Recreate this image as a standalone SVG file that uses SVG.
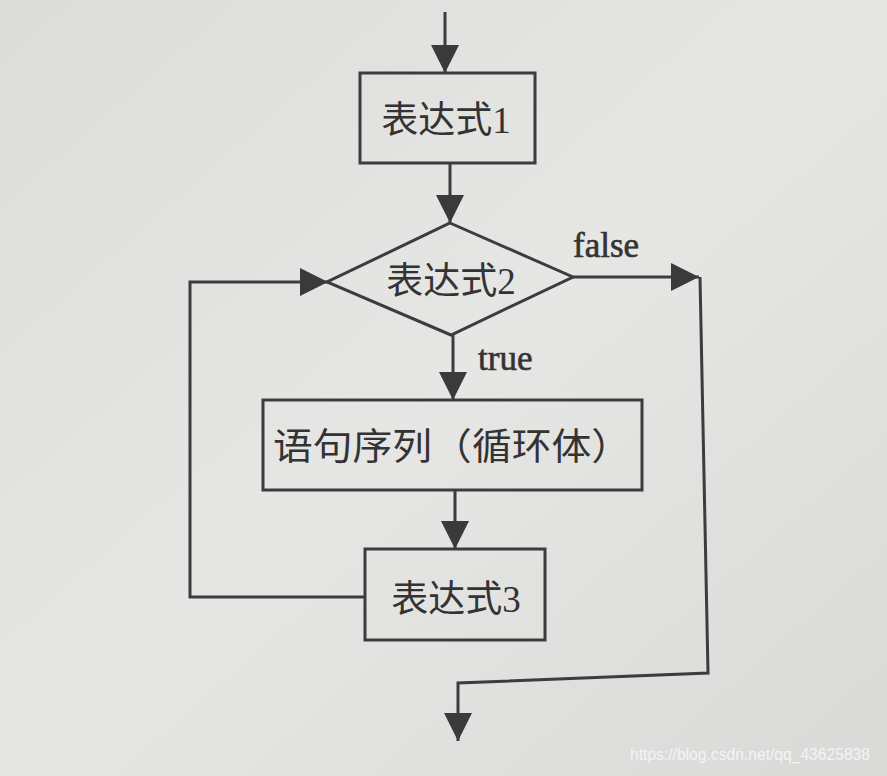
<svg xmlns="http://www.w3.org/2000/svg" width="887" height="776" viewBox="0 0 887 776">
<defs>
<linearGradient id="bg" x1="0" y1="0" x2="1" y2="1">
<stop offset="0" stop-color="#dcdcda"/>
<stop offset="0.5" stop-color="#e6e6e4"/>
<stop offset="1" stop-color="#d9d9d7"/>
</linearGradient>
<marker id="ah" viewBox="0 0 28 28" refX="28" refY="14" markerWidth="28" markerHeight="28" markerUnits="userSpaceOnUse" orient="auto">
<path d="M0,0 L28,14 L0,28 Z" fill="#3a3a3a"/>
</marker>
<style>
.ln{fill:none;stroke:#3c3c3c;stroke-width:3}
.bx{fill:none;stroke:#3c3c3c;stroke-width:3}
.cn{font-family:"Liberation Serif","Noto Sans CJK SC",serif;font-size:37px;fill:#333;text-anchor:middle}
.lb{font-family:"Liberation Serif",serif;font-size:35px;fill:#333;stroke:#333;stroke-width:0.6}
.wm{font-family:"Liberation Sans",Arial,sans-serif;font-size:16px;fill:#f4f4f4}
</style>
</defs>
<rect width="887" height="776" fill="url(#bg)"/>
<g id="connectors">
<path class="ln" d="M445,12 V73" marker-end="url(#ah)"/>
<path class="ln" d="M450,163 V223" marker-end="url(#ah)"/>
<path class="ln" d="M573,277 H699" marker-end="url(#ah)"/>
<path class="ln" d="M700,277 L708,673 L458,683 V741" marker-end="url(#ah)"/>
<path class="ln" d="M453,335 V400" marker-end="url(#ah)"/>
<path class="ln" d="M455,490 V549" marker-end="url(#ah)"/>
<path class="ln" d="M365,597 H190 V282 H328" marker-end="url(#ah)"/>
<text class="lb" x="573" y="257">false</text>
<text class="lb" x="478" y="370">true</text>
</g>
<g id="expr1">
<rect class="bx" x="360" y="73" width="175" height="90"/>
<text class="cn" x="446" y="133">表达式1</text>
</g>
<g id="expr2">
<path class="bx" d="M450,223 L573,277 L451,335 L327,282 Z"/>
<text class="cn" x="451" y="294">表达式2</text>
</g>
<g id="body">
<rect class="bx" x="263" y="400" width="379" height="90"/>
<text class="cn" x="452" y="460" textLength="358" lengthAdjust="spacingAndGlyphs">语句序列（循环体）</text>
</g>
<g id="expr3">
<rect class="bx" x="365" y="549" width="180" height="91"/>
<text class="cn" x="456" y="612">表达式3</text>
</g>
<text class="wm" x="630" y="760" textLength="240" lengthAdjust="spacingAndGlyphs">https://blog.csdn.net/qq_43625838</text>
</svg>
